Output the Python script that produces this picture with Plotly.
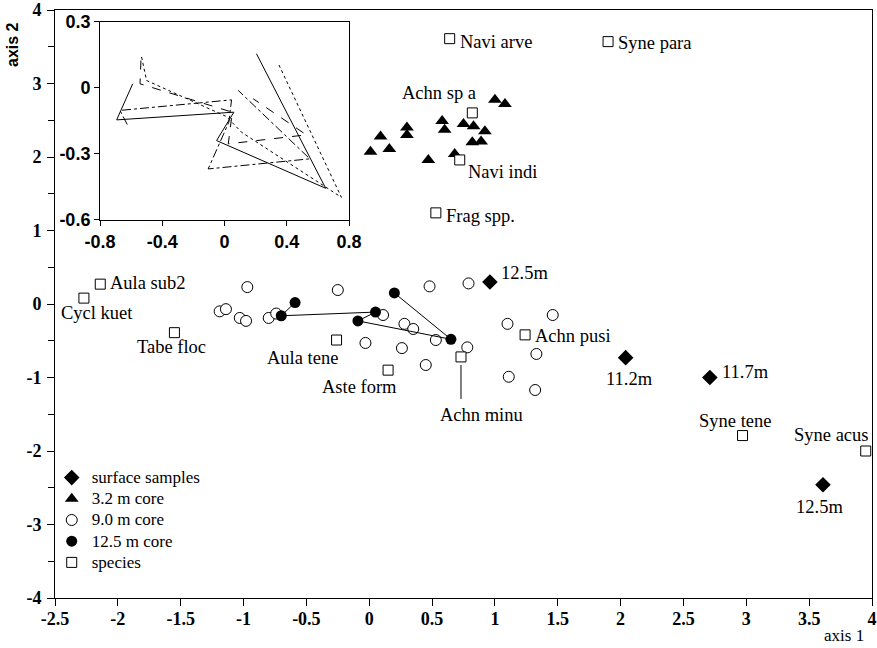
import plotly.graph_objects as go

# ---------------- data ----------------
species_names = ["Navi arve", "Syne para", "Achn sp a", "Navi indi", "Frag spp.", "Aula sub2",
                 "Cycl kuet", "Tabe floc", "Aula tene", "Aste form", "Achn minu", "Achn pusi",
                 "Syne tene", "Syne acus"]
species_x = [0.64, 1.90, 0.82, 0.72, 0.53, -2.14, -2.27, -1.55, -0.26, 0.15, 0.73, 1.24, 2.97, 3.95]
species_y = [3.61, 3.57, 2.60, 1.96, 1.24, 0.27, 0.08, -0.39, -0.49, -0.90, -0.72, -0.42, -1.79, -2.00]

surface_labels = ["12.5m", "11.2m", "11.7m", "12.5m"]
surface_x = [0.96, 2.04, 2.71, 3.61]
surface_y = [0.30, -0.73, -1.00, -2.46]

core32_x = [1.00, 1.08, 0.58, 0.60, 0.75, 0.83, 0.92, 0.89, 0.82, 0.68, 0.47, 0.30, 0.30, 0.16, 0.09, 0.01]
core32_y = [2.78, 2.72, 2.49, 2.37, 2.45, 2.42, 2.35, 2.21, 2.20, 2.04, 1.96, 2.40, 2.30, 2.11, 2.28, 2.07]

core90_x = [-0.97, -1.19, -1.14, -1.03, -0.98, -0.80, -0.74, -0.25, 0.11, 0.28, 0.35, -0.03,
            0.26, 0.45, 0.53, 0.48, 0.79, 0.78, 1.10, 1.46, 1.33, 1.11, 1.32]
core90_y = [0.23, -0.10, -0.07, -0.19, -0.23, -0.19, -0.13, 0.19, -0.15, -0.27, -0.34, -0.53,
            -0.60, -0.83, -0.49, 0.24, 0.28, -0.59, -0.27, -0.15, -0.68, -0.99, -1.17]

core125_x = [-0.59, -0.70, 0.05, -0.09, 0.65, 0.20]
core125_y = [0.02, -0.16, -0.11, -0.23, -0.48, 0.15]

# inset (procrustes-like) outlines
inset_solid_x = [-0.590, -0.693, 0.060, -0.051, 0.650, 0.205]
inset_solid_y = [0.019, -0.145, -0.110, -0.239, -0.456, 0.156]
inset_dash_x = [-0.537, -0.543, 0.050, 0.024, 0.526, 0.184]
inset_dash_y = [0.125, 0.019, -0.110, -0.254, -0.213, -0.049]
inset_dot_x = [-0.533, -0.501, 0.013, 0.109, 0.751, 0.344]
inset_dot_y = [0.141, 0.034, -0.130, -0.201, -0.497, 0.113]
inset_dashdot_x = [-0.625, -0.672, 0.045, 0.028, -0.105, 0.548, 0.088]
inset_dashdot_y = [-0.166, -0.102, -0.054, -0.155, -0.368, -0.322, -0.011]

x_ticks = [-2.5, -2, -1.5, -1, -0.5, 0, 0.5, 1, 1.5, 2, 2.5, 3, 3.5, 4]
y_ticks = [-4, -3, -2, -1, 0, 1, 2, 3, 4]
inset_x_ticks = [-0.8, -0.4, 0, 0.4, 0.8]
inset_y_ticks = [-0.6, -0.3, 0, 0.3]

# ---------------- styles ----------------
SERIF = "Liberation Serif"
SANS = "Liberation Sans"
label_font = dict(family=SERIF, size=18.5, color="black")

species_label_style = {
    "Navi arve": (8, -3, "left"), "Syne para": (8, -1, "left"), "Achn sp a": (-33, 20, "center"),
    "Navi indi": (6, -12, "left"), "Frag spp.": (8, -3, "left"), "Aula sub2": (8, 1, "left"),
    "Cycl kuet": (13, -15, "center"), "Tabe floc": (-3, -14, "center"),
    "Aula tene": (-34, -18, "center"), "Aste form": (-29, -17, "center"),
    "Achn minu": (21, -58, "center"), "Achn pusi": (8, -1, "left"),
    "Syne tene": (-8, 15, "center"), "Syne acus": (-34, 16, "center"),
}
surface_label_style = [(9, 9, "left"), (4, -21, "center"), (10, 6, "left"), (-3, -22, "center")]


def legend_name(s):
    return f"<span style='font-size:17px'>{s}</span>"


fig = go.Figure()

fig.add_trace(go.Scatter(x=surface_x, y=surface_y, mode="markers", name=legend_name("surface samples"),
                         marker=dict(symbol="diamond", size=12, color="black")))
fig.add_trace(go.Scatter(x=core32_x, y=core32_y, mode="markers", name=legend_name("3.2 m core"),
                         marker=dict(symbol="triangle-up", size=12, color="black")))
fig.add_trace(go.Scatter(x=core90_x, y=core90_y, mode="markers", name=legend_name("9.0 m core"),
                         marker=dict(symbol="circle", size=11, color="white",
                                     line=dict(color="black", width=1))))
fig.add_trace(go.Scatter(x=core125_x, y=core125_y, mode="lines", showlegend=False,
                         line=dict(color="black", width=1)))
fig.add_trace(go.Scatter(x=core125_x, y=core125_y, mode="markers", name=legend_name("12.5 m core"),
                         marker=dict(symbol="circle", size=11, color="black")))
fig.add_trace(go.Scatter(x=species_x, y=species_y, mode="markers", name=legend_name("species"),
                         marker=dict(symbol="square", size=10, color="white",
                                     line=dict(color="black", width=1))))

# inset lines
for xs, ys, dash in [(inset_solid_x, inset_solid_y, "solid"),
                     (inset_dash_x, inset_dash_y, "dash"),
                     (inset_dot_x, inset_dot_y, "dot"),
                     (inset_dashdot_x, inset_dashdot_y, "dashdot")]:
    fig.add_trace(go.Scatter(x=xs, y=ys, mode="lines", xaxis="x2", yaxis="y2", showlegend=False,
                             line=dict(color="black", width=1, dash=dash)))

annotations = []
for name, x, y in zip(species_names, species_x, species_y):
    dx, dy, anchor = species_label_style[name]
    annotations.append(dict(x=x, y=y, xref="x", yref="y", text=name, showarrow=False,
                            xshift=dx, yshift=dy, xanchor=anchor, yanchor="middle", font=label_font))
    if name == "Achn minu":
        annotations.append(dict(x=x, y=y, xref="x", yref="y", text=" ", showarrow=True,
                                arrowhead=0, arrowwidth=1, arrowcolor="black", ax=0, ay=46,
                                standoff=8, font=dict(size=4)))
for lab, x, y, (dx, dy, anchor) in zip(surface_labels, surface_x, surface_y, surface_label_style):
    annotations.append(dict(x=x, y=y, xref="x", yref="y", text=lab, showarrow=False,
                            xshift=dx, yshift=dy, xanchor=anchor, yanchor="middle", font=label_font))

annotations.append(dict(x=-0.0514, y=0.9405, xref="paper", yref="paper", text="axis 2",
                        textangle=-90, showarrow=False, xanchor="center", yanchor="middle",
                        font=dict(family=SANS, size=16, color="black", weight="bold")))
annotations.append(dict(x=0.9657, y=-0.0646, xref="paper", yref="paper", text="axis 1",
                        showarrow=False, xanchor="center", yanchor="middle",
                        font=dict(family=SERIF, size=17, color="black")))

main_axis = dict(showgrid=False, zeroline=False, showline=True, linecolor="black", linewidth=1,
                 mirror=True, ticks="outside", ticklen=7, tickcolor="black", tickwidth=1,
                 automargin=False,
                 tickfont=dict(family=SERIF, size=18, color="black", weight="bold"))
inset_axis = dict(showgrid=False, zeroline=False, showline=True, linecolor="black", linewidth=1,
                  mirror=True, ticks="outside", ticklen=5, tickcolor="black", tickwidth=1,
                  automargin=False,
                  tickfont=dict(family=SANS, size=18, color="black", weight="bold"))

fig.update_layout(
    width=877, height=648,
    margin=dict(l=55, r=5, t=10, b=50, autoexpand=False),
    paper_bgcolor="white", plot_bgcolor="white",
    xaxis=dict(main_axis, range=[-2.5, 4], tickvals=x_ticks, ticktext=[f"{v:g}" for v in x_ticks],
               domain=[0, 1], ticklabelstandoff=-3),
    yaxis=dict(main_axis, range=[-4, 4], tickvals=y_ticks, ticktext=[f"{v:g}" for v in y_ticks],
               domain=[0, 1], ticklabelstandoff=2,
               minor=dict(ticks="outside", ticklen=6, tickcolor="black", dtick=0.5, showgrid=False)),
    xaxis2=dict(inset_axis, range=[-0.8, 0.8], tickvals=inset_x_ticks,
                ticktext=[f"{v:g}" for v in inset_x_ticks], domain=[0.0551, 0.3599], anchor="y2"),
    yaxis2=dict(inset_axis, range=[-0.6, 0.3], tickvals=inset_y_ticks,
                ticktext=[f"{v:g}" for v in inset_y_ticks], domain=[0.6429, 0.9796], anchor="x2"),
    legend=dict(x=-0.004, y=0.2313, xanchor="left", yanchor="top", bgcolor="rgba(0,0,0,0)",
                font=dict(family=SERIF, size=14, color="black"), tracegroupgap=0),
    annotations=annotations,
    showlegend=True,
)

# remove the default page margin so the figure sits at the window's top-left corner
fig.write_html("out.html", config={"displayModeBar": False},
               post_script="document.body.style.margin='0';document.body.style.overflow='hidden';")
